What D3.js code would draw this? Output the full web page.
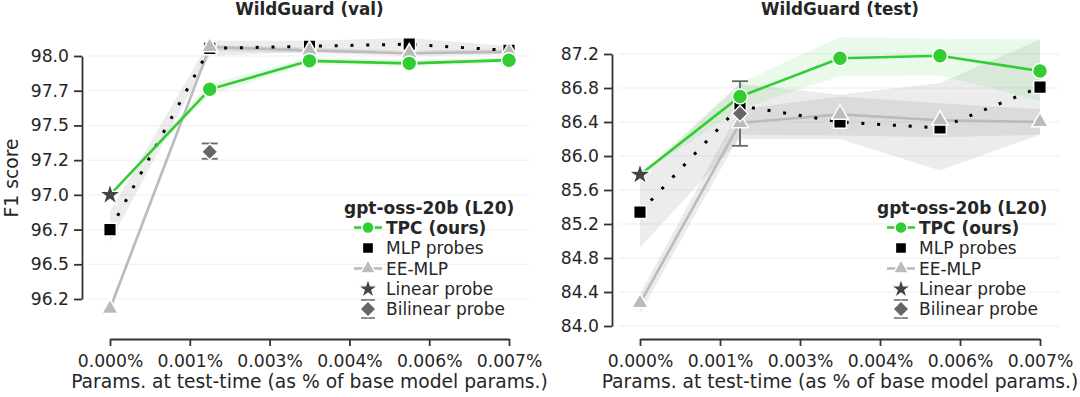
<!DOCTYPE html>
<html><head><meta charset="utf-8">
<script src="https://cdn.jsdelivr.net/npm/d3@7"></script>
<style>
body{margin:0;background:#fff}
svg{display:block;font-family:"DejaVu Sans",sans-serif}
</style>
</head><body><svg id="c" width="1080" height="397"></svg>
<script>
// ---------- data ----------
const xVals = [0, 0.00175, 0.0035, 0.00525, 0.007];
const xTicks = [0, 0.0014, 0.0028, 0.0042, 0.0056, 0.007];
const xTickLabels = ["0.000%", "0.001%", "0.003%", "0.004%", "0.006%", "0.007%"];
const methods = ["TPC (ours)", "MLP probes", "EE-MLP", "Linear probe", "Bilinear probe"];
const legendTitle = "gpt-oss-20b (L20)";
const panelTitles = ["WildGuard (val)", "WildGuard (test)"];
const xAxisTitle = "Params. at test-time (as % of base model params.)";
const yAxisTitle = "F1 score";

// WildGuard (val)
const valYTicks = [96.25, 96.5, 96.75, 97.0, 97.25, 97.5, 97.75, 98.0];
const valYTickLabels = ["96.2", "96.5", "96.7", "97.0", "97.2", "97.5", "97.7", "98.0"];
const valTPC   = [97.0, 97.76, 97.965, 97.947, 97.97];
const valTPCLo = [97.0, 97.72, 97.94, 97.925, 97.95];
const valTPCHi = [97.0, 97.80, 97.99, 97.97, 97.99];
const valMLP   = [96.75, 98.055, 98.07, 98.085, 98.04];
const valMLPLo = [96.66, 98.0, 98.03, 98.04, 98.02];
const valMLPHi = [96.88, 98.11, 98.11, 98.13, 98.07];
const valEE    = [96.18, 98.065, 98.04, 98.02, 98.03];
const valEELo  = [96.15, 98.04, 98.02, 98.0, 98.01];
const valEEHi  = [96.21, 98.08, 98.06, 98.04, 98.05];
const valLinear = 97.0;
const valBilinear = 97.31, valBilinearLo = 97.26, valBilinearHi = 97.37;

// WildGuard (test)
const testYTicks = [84.0, 84.4, 84.8, 85.2, 85.6, 86.0, 86.4, 86.8, 87.2];
const testYTickLabels = ["84.0", "84.4", "84.8", "85.2", "85.6", "86.0", "86.4", "86.8", "87.2"];
const testTPC   = [85.78, 86.70, 87.15, 87.18, 87.00];
const testTPCLo = [85.78, 86.55, 86.94, 86.95, 86.65];
const testTPCHi = [85.78, 86.86, 87.40, 87.38, 87.37];
const testMLP   = [85.34, 86.59, 86.40, 86.33, 86.81];
const testMLPLo = [84.92, 86.20, 86.20, 85.83, 86.25];
const testMLPHi = [85.75, 86.85, 86.72, 86.86, 87.37];
const testEE    = [84.27, 86.39, 86.49, 86.42, 86.40];
const testEELo  = [84.15, 86.25, 86.24, 86.22, 86.25];
const testEEHi  = [84.38, 86.55, 86.70, 86.62, 86.55];
const testLinear = 85.78;
const testBilinear = 86.50, testBilinearLo = 86.12, testBilinearHi = 86.88;

// ---------- style ----------
const GREEN = "#32cd32", BLACK = "#000", EEGRAY = "#bbbbbb", STAR = "#444444", DIAM = "#666666";
const TXT = "#262626", SPINE = "#333333";

const svg = d3.select("#c");

function drawPanel(cfg) {
  const g = svg.append("g");
  const x = d3.scaleLinear().domain([0, 0.007]).range(cfg.xr);
  const y = d3.scaleLinear().domain([cfg.yTicks[0], cfg.yTicks[cfg.yTicks.length - 1]]).range(cfg.yr);

  // grid
  g.append("g").selectAll("line").data(cfg.yTicks).join("line")
    .attr("x1", cfg.gridX[0]).attr("x2", cfg.gridX[1])
    .attr("y1", d => y(d)).attr("y2", d => y(d))
    .attr("stroke", "#efefef").attr("stroke-width", 1);

  const idx = d3.range(xVals.length);
  const band = (lo, hi) => d3.area().x(i => x(xVals[i])).y0(i => y(lo[i])).y1(i => y(hi[i]))(idx);
  g.append("path").attr("d", band(cfg.mlpLo, cfg.mlpHi)).attr("fill", "#808080").attr("fill-opacity", 0.15);
  g.append("path").attr("d", band(cfg.eeLo, cfg.eeHi)).attr("fill", "#808080").attr("fill-opacity", 0.15);
  g.append("path").attr("d", band(cfg.tpcLo, cfg.tpcHi)).attr("fill", GREEN).attr("fill-opacity", 0.1);

  const line = vals => d3.line().x(i => x(xVals[i])).y(i => y(vals[i]))(idx);
  g.append("path").attr("d", line(cfg.ee)).attr("fill", "none").attr("stroke", EEGRAY).attr("stroke-width", 2.6);
  g.append("path").attr("d", line(cfg.mlp)).attr("fill", "none").attr("stroke", BLACK)
    .attr("stroke-width", 3).attr("stroke-dasharray", "3 12.8");
  g.append("path").attr("d", line(cfg.tpc)).attr("fill", "none").attr("stroke", GREEN).attr("stroke-width", 2.6);

  // bilinear error bar
  const bx = x(xVals[1]);
  const eb = g.append("g").attr("stroke", DIAM).attr("stroke-width", 1.8);
  eb.append("line").attr("x1", bx).attr("x2", bx).attr("y1", y(cfg.bilLo)).attr("y2", y(cfg.bilHi));
  [cfg.bilLo, cfg.bilHi].forEach(v => eb.append("line").attr("x1", bx - 8).attr("x2", bx + 8).attr("y1", y(v)).attr("y2", y(v)));

  // markers
  g.append("g").selectAll("path").data(idx).join("path")
    .attr("transform", i => `translate(${x(xVals[i])},${y(cfg.mlp[i])})`)
    .attr("d", d3.symbol().type(d3.symbolSquare).size(160)).attr("fill", BLACK).attr("stroke", "#fff").attr("stroke-width", 1.5);
  g.append("g").selectAll("path").data(idx).join("path")
    .attr("transform", i => `translate(${x(xVals[i])},${y(cfg.ee[i])})`)
    .attr("d", d3.symbol().type(d3.symbolTriangle).size(120)).attr("fill", EEGRAY).attr("stroke", "#fff").attr("stroke-width", 1.5);
  g.append("g").selectAll("path").data(idx.slice(1)).join("path")
    .attr("transform", i => `translate(${x(xVals[i])},${y(cfg.tpc[i])})`)
    .attr("d", d3.symbol().type(d3.symbolCircle).size(175)).attr("fill", GREEN).attr("stroke", "#fff").attr("stroke-width", 1.5);
  g.append("path").attr("transform", `translate(${x(xVals[0])},${y(cfg.lin)})`)
    .attr("d", d3.symbol().type(d3.symbolStar).size(150)).attr("fill", STAR).attr("stroke", "#fff").attr("stroke-width", 1.2);
  g.append("path").attr("transform", `translate(${bx},${y(cfg.bil)}) rotate(45)`)
    .attr("d", d3.symbol().type(d3.symbolSquare).size(130)).attr("fill", DIAM).attr("stroke", "#fff").attr("stroke-width", 1.5);

  // axes
  const ya = g.append("g").attr("transform", `translate(${cfg.spineX},0)`)
    .call(d3.axisLeft(y).tickValues(cfg.yTicks).tickFormat((d, i) => cfg.yLabels[i]).tickSize(8).tickPadding(5).tickSizeOuter(0));
  const xa = g.append("g").attr("transform", `translate(0,339)`)
    .call(d3.axisBottom(x).tickValues(xTicks).tickFormat((d, i) => xTickLabels[i]).tickSize(7).tickPadding(9).tickSizeOuter(0));
  [ya, xa].forEach(a => {
    a.select(".domain").attr("stroke", SPINE).attr("stroke-width", 1.8);
    a.selectAll(".tick line").attr("stroke", SPINE).attr("stroke-width", 1.8);
    a.selectAll(".tick text").attr("fill", TXT).style("font-size", "17.2px").style("font-family", "DejaVu Sans");
  });

  // titles
  const cx = (cfg.xr[0] + cfg.xr[1]) / 2;
  g.append("text").attr("x", cx).attr("y", 15).attr("text-anchor", "middle")
    .attr("font-weight", "bold").attr("font-size", 16.8).attr("fill", TXT).text(cfg.title);
  g.append("text").attr("x", cx).attr("y", 388).attr("text-anchor", "middle")
    .attr("font-size", 18.7).attr("fill", TXT).text(xAxisTitle);

  // legend
  const L = g.append("g").attr("transform", `translate(${cfg.legX},0)`);
  L.append("text").attr("x", 0).attr("y", 214).attr("font-weight", "bold").attr("font-size", 17).attr("fill", TXT).text(legendTitle);
  const rows = [227.5, 248, 268.5, 289, 309];
  const mx = 24;
  rows.forEach((ry, k) => {
    L.append("text").attr("x", 42).attr("y", ry + 6).attr("font-size", 17)
      .attr("font-weight", k === 0 ? "bold" : "normal").attr("fill", TXT).text(methods[k]);
  });
  // TPC handle
  L.append("line").attr("x1", 10).attr("x2", 38).attr("y1", rows[0]).attr("y2", rows[0]).attr("stroke", GREEN).attr("stroke-width", 2.6);
  L.append("path").attr("transform", `translate(${mx},${rows[0]})`).attr("d", d3.symbol().type(d3.symbolCircle).size(115))
    .attr("fill", GREEN).attr("stroke", "#fff").attr("stroke-width", 1.5);
  // MLP handle
  L.append("path").attr("transform", `translate(${mx},${rows[1]})`).attr("d", d3.symbol().type(d3.symbolSquare).size(125))
    .attr("fill", BLACK).attr("stroke", "#fff").attr("stroke-width", 1.5);
  // EE handle
  L.append("line").attr("x1", 10).attr("x2", 38).attr("y1", rows[2]).attr("y2", rows[2]).attr("stroke", EEGRAY).attr("stroke-width", 2.6);
  L.append("path").attr("transform", `translate(${mx},${rows[2]})`).attr("d", d3.symbol().type(d3.symbolTriangle).size(100))
    .attr("fill", EEGRAY).attr("stroke", "#fff").attr("stroke-width", 1.5);
  // star handle
  L.append("path").attr("transform", `translate(${mx},${rows[3]})`).attr("d", d3.symbol().type(d3.symbolStar).size(120))
    .attr("fill", STAR).attr("stroke", "#fff").attr("stroke-width", 1.2);
  // bilinear handle
  const lb = L.append("g").attr("stroke", DIAM).attr("stroke-width", 1.5);
  lb.append("line").attr("x1", mx).attr("x2", mx).attr("y1", rows[4] - 9).attr("y2", rows[4] + 9);
  [-9, 9].forEach(o => lb.append("line").attr("x1", mx - 7).attr("x2", mx + 7).attr("y1", rows[4] + o).attr("y2", rows[4] + o));
  L.append("path").attr("transform", `translate(${mx},${rows[4]}) rotate(45)`).attr("d", d3.symbol().type(d3.symbolSquare).size(130))
    .attr("fill", DIAM).attr("stroke", "#fff").attr("stroke-width", 1.5);
}

drawPanel({
  title: panelTitles[0], xr: [110, 509], yr: [299, 56], gridX: [88, 530], spineX: 82,
  yTicks: valYTicks, yLabels: valYTickLabels,
  tpc: valTPC, tpcLo: valTPCLo, tpcHi: valTPCHi,
  mlp: valMLP, mlpLo: valMLPLo, mlpHi: valMLPHi,
  ee: valEE, eeLo: valEELo, eeHi: valEEHi,
  lin: valLinear, bil: valBilinear, bilLo: valBilinearLo, bilHi: valBilinearHi,
  legX: 344
});
drawPanel({
  title: panelTitles[1], xr: [640, 1040], yr: [326, 54], gridX: [619, 1060], spineX: 612,
  yTicks: testYTicks, yLabels: testYTickLabels,
  tpc: testTPC, tpcLo: testTPCLo, tpcHi: testTPCHi,
  mlp: testMLP, mlpLo: testMLPLo, mlpHi: testMLPHi,
  ee: testEE, eeLo: testEELo, eeHi: testEEHi,
  lin: testLinear, bil: testBilinear, bilLo: testBilinearLo, bilHi: testBilinearHi,
  legX: 877
});

svg.append("text").attr("transform", "translate(18,178) rotate(-90)").attr("text-anchor", "middle")
  .attr("font-size", 18.7).attr("fill", TXT).text(yAxisTitle);
</script>
</body></html>
